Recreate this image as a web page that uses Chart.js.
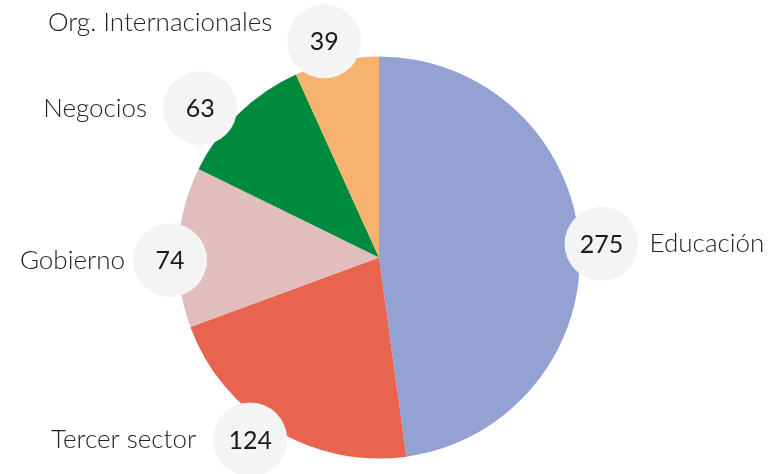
<!DOCTYPE html>
<html>
<head>
<meta charset="utf-8">
<script src="https://cdn.jsdelivr.net/npm/chart.js@4/dist/chart.umd.min.js"></script>
<style>
  html, body { margin: 0; padding: 0; background: #ffffff; }
  #wrap { width: 783px; height: 474px; position: relative; }
</style>
</head>
<body>
<div id="wrap"><canvas id="chart" width="783" height="474"></canvas></div>
<script>
// Number of organisations per sector
const categories = ['Educación', 'Tercer sector', 'Gobierno', 'Negocios', 'Org. Internacionales'];
const counts = [275, 124, 74, 63, 39];
const sliceColors = ['#93a2d3', '#e8644f', '#e1bebd', '#008a3e', '#f5b36f'];

// Bubble placement around the rim: angle nudge (degrees), extra distance past the rim,
// which side the category name sits on, and its vertical offset.
const bubbleLayout = [
  { shift: 0.4,  out: 22, side: 'right', gap: 11, dy: 0 },
  { shift: 4.3,  out: 22, side: 'left',  gap: 17, dy: 0 },
  { shift: -3.7, out: 8,  side: 'left',  gap: 8,  dy: 0 },
  { shift: -6,   out: 32, side: 'left',  gap: 16, dy: 0 },
  { shift: -2,   out: 22, side: 'left',  gap: 15, dy: -19 }
];

const bubbleLabels = {
  id: 'bubbleLabels',
  afterDatasetsDraw(chart) {
    const ctx = chart.ctx;
    const meta = chart.getDatasetMeta(0);
    const values = chart.data.datasets[0].data;
    const R = 37;
    ctx.save();
    meta.data.forEach((arc, i) => {
      const lay = bubbleLayout[i];
      const mid = (arc.startAngle + arc.endAngle) / 2 + lay.shift * Math.PI / 180;
      const d = arc.outerRadius + lay.out;
      const cx = arc.x + Math.cos(mid) * d;
      const cy = arc.y + Math.sin(mid) * d;

      ctx.beginPath();
      ctx.arc(cx, cy, R, 0, Math.PI * 2);
      ctx.fillStyle = '#f4f4f4';
      ctx.fill();

      ctx.fillStyle = '#1a1a1a';
      ctx.font = '400 25px Lato';
      ctx.textAlign = 'center';
      ctx.textBaseline = 'middle';
      ctx.fillText(String(values[i]), cx, cy + 1);

      ctx.fillStyle = '#222222';
      ctx.font = '300 26px Lato';
      if (lay.side === 'right') {
        ctx.textAlign = 'left';
        ctx.fillText(chart.data.labels[i], cx + R + lay.gap, cy + lay.dy);
      } else {
        ctx.textAlign = 'right';
        ctx.fillText(chart.data.labels[i], cx - R - lay.gap, cy + lay.dy);
      }
    });
    ctx.restore();
  }
};

new Chart(document.getElementById('chart'), {
  type: 'pie',
  data: {
    labels: categories,
    datasets: [{
      data: counts,
      backgroundColor: sliceColors,
      borderWidth: 0,
      hoverOffset: 0
    }]
  },
  options: {
    responsive: false,
    animation: false,
    radius: 201,
    layout: { padding: { left: 0, right: 25, top: 41, bottom: 0 } },
    plugins: {
      legend: { display: false },
      tooltip: { enabled: false }
    }
  },
  plugins: [bubbleLabels]
});
</script>
</body>
</html>
